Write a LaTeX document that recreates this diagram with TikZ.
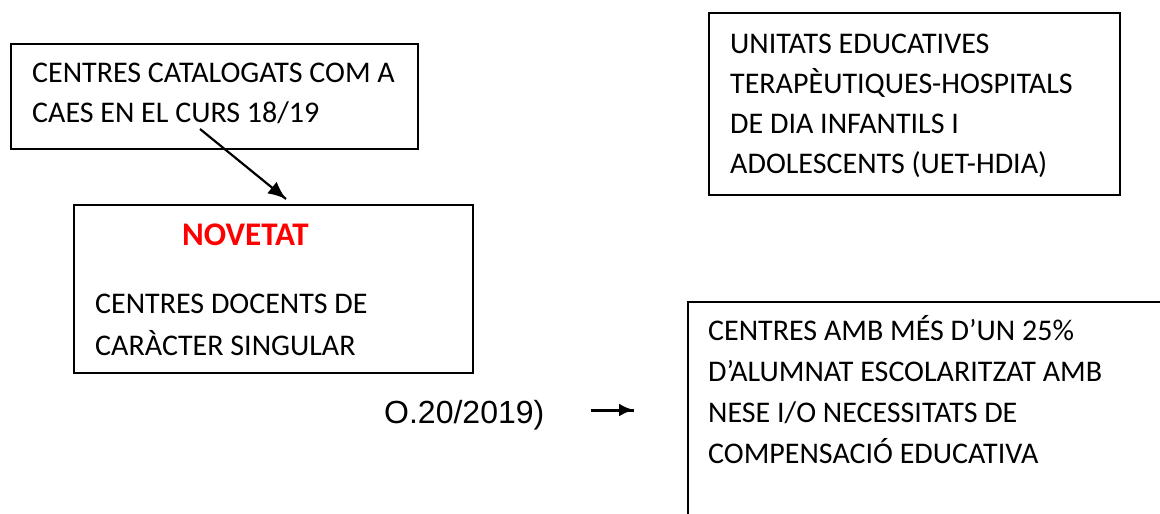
\documentclass[tikz,border=0pt]{standalone}
\usepackage{fontspec}
\setmainfont{Carlito}
\newfontfamily\arialfont{Liberation Sans}
\usetikzlibrary{arrows.meta}
\usetikzlibrary{decorations.markings}
\tikzset{->/.style = {decoration={markings,
                                  mark=at position 1 with {\arrow{Latex[length=18pt,width=15pt]}}},
                      postaction={decorate}}}
\tikzset{box/.style = {draw, line width=1.5pt, inner sep=0pt, anchor=north west},
         boxtext/.style = {inner sep=0pt, anchor=base west, align=left,
                           font=\fontsize{30}{40}\selectfont}}

\begin{document}
\begin{tikzpicture}[x=1pt, y=-1pt]
    \useasboundingbox (0, 0) rectangle (1160, 514);
    \clip (0, 0) rectangle (1160, 514);
    \node [box, minimum width=407, minimum height=105] (caes) at (10, 43) {};
    \node [box, minimum width=399, minimum height=168] (singular) at (73, 204) {};
    \node [box, minimum width=411, minimum height=182] (uet) at (708, 12) {};
    \node [box, minimum width=520, minimum height=260] (nese) at (687, 301) {};
    % the base of a text of several lines is its last line
    \node [boxtext] (caestext) at (32, 122) {CENTRES CATALOGATS COM A\\CAES EN EL CURS 18/19};
    \node [boxtext, font=\fontsize{33}{40}\selectfont\bfseries, text=red] (novetat) at (182, 245) {NOVETAT};
    \node [boxtext, font=\fontsize{30}{42}\selectfont] (singulartext) at (95, 355) {CENTRES DOCENTS DE\\CARÀCTER SINGULAR};
    \node [boxtext] (uettext) at (730, 173) {UNITATS EDUCATIVES\\TERAPÈUTIQUES-HOSPITALS\\DE DIA INFANTILS I\\ADOLESCENTS (UET-HDIA)};
    \node [boxtext, font=\fontsize{30}{41}\selectfont] (nesetext) at (708, 463) {CENTRES AMB MÉS D’UN 25\%\\D’ALUMNAT ESCOLARITZAT AMB\\NESE I/O NECESSITATS DE\\COMPENSACIÓ EDUCATIVA};
    \node [boxtext, font=\fontsize{32}{36}\arialfont] (ordre) at (384, 423) {O.20/2019)};
    \coordinate (caesfoot) at (200, 129);
    \coordinate (singularhead) at (286, 199);
    \coordinate (ordretail) at (591, 410);
    \coordinate (ordrehead) at (634, 410);
    \draw [->, line width=2.2pt] (caesfoot) -- (singularhead);
    \draw [line width=3pt, decoration={markings, mark=at position 1 with {\arrow{Latex[length=15pt,width=13pt]}}},
           postaction={decorate}] (ordretail) -- (ordrehead);
  \end{tikzpicture}
\end{document}
